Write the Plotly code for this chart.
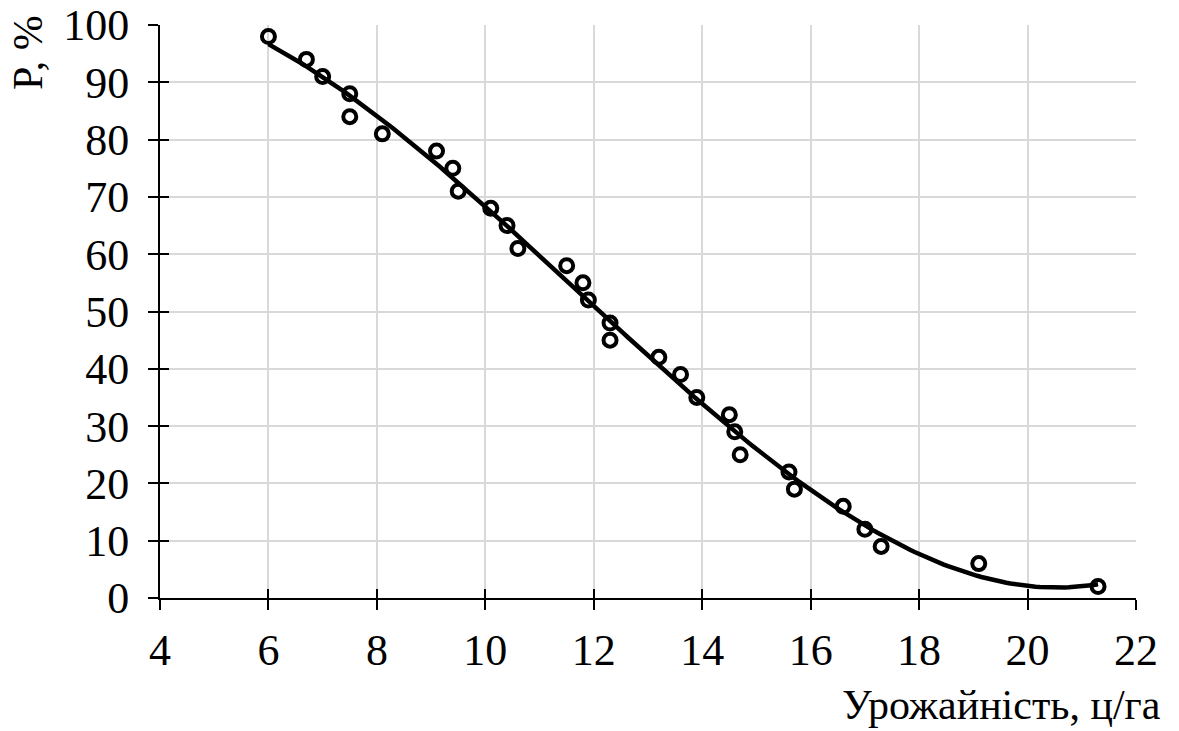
import numpy as np
import plotly.graph_objects as go

# Observed data: yield (c/ha) and probability P (%)
yield_x = [6.0, 6.7, 7.0, 7.5, 7.5, 8.1, 9.1, 9.4, 9.5, 10.1, 10.4, 10.6, 11.5, 11.8, 11.9,
           12.3, 12.3, 13.2, 13.6, 13.9, 14.5, 14.6, 14.7, 15.6, 15.7, 16.6, 17.0, 17.3, 19.1, 21.3]
prob_p = [98, 94, 91, 88, 84, 81, 78, 75, 71, 68, 65, 61, 58, 55, 52,
          48, 45, 42, 39, 35, 32, 29, 25, 22, 19, 16, 12, 9, 6, 2]

x_ticks = [4, 6, 8, 10, 12, 14, 16, 18, 20, 22]
y_ticks = [0, 10, 20, 30, 40, 50, 60, 70, 80, 90, 100]

# Cubic trend line fitted to the data
coef = np.polyfit(yield_x, prob_p, 3)
xs = np.linspace(min(yield_x), max(yield_x), 200)
ys = np.polyval(coef, xs)

FONT = "Liberation Serif, Times New Roman, serif"

fig = go.Figure()
fig.add_trace(go.Scatter(x=xs, y=ys, mode="lines",
                         line=dict(color="black", width=4.5), hoverinfo="skip",
                         showlegend=False))
fig.add_trace(go.Scatter(x=yield_x, y=prob_p, mode="markers",
                         marker=dict(symbol="circle-open", size=13,
                                     line=dict(color="black", width=4), color="black"),
                         showlegend=False))
# invisible trace that activates the overlay axes (used for crossing ticks)
fig.add_trace(go.Scatter(x=[x_ticks[0]], y=[y_ticks[0]], xaxis="x2", yaxis="y2",
                         mode="markers", marker=dict(opacity=0), hoverinfo="skip",
                         showlegend=False))

common_axis = dict(showline=True, linecolor="black", linewidth=2,
                   ticks="outside", ticklen=10, tickwidth=2, tickcolor="black",
                   gridcolor="#d9d9d9", gridwidth=2, zeroline=False, automargin=False,
                   tickfont=dict(family=FONT, size=44, color="black"))

overlay_axis = dict(ticks="inside", ticklen=9, tickwidth=2, tickcolor="black",
                    showticklabels=False, showgrid=False, zeroline=False,
                    showline=False, automargin=False)

fig.update_layout(
    width=1179, height=731,
    margin=dict(l=160, r=43, t=25, b=133),
    paper_bgcolor="white", plot_bgcolor="white",
    font=dict(family=FONT, color="black"),
    xaxis=dict(range=[4, 22], tickvals=x_ticks, ticktext=[str(v) for v in x_ticks],
               ticklabelstandoff=2, **common_axis),
    yaxis=dict(range=[0, 100], tickvals=y_ticks, ticktext=[str(v) for v in y_ticks],
               ticklabelstandoff=10, **common_axis),
    xaxis2=dict(range=[4, 22], tickvals=x_ticks, overlaying="x", anchor="y2",
                side="bottom", **overlay_axis),
    yaxis2=dict(range=[0, 100], tickvals=y_ticks, overlaying="y", anchor="x2",
                side="left", **overlay_axis),
)

fig.add_annotation(text="Урожайність, ц/га", xref="paper", yref="paper",
                   x=1, y=0, xanchor="right", yanchor="middle",
                   xshift=27, yshift=-107, showarrow=False,
                   font=dict(family=FONT, size=42, color="black"))
fig.add_annotation(text="P, %", xref="paper", yref="paper",
                   x=0, y=1, xanchor="center", yanchor="middle",
                   xshift=-132, yshift=-28, textangle=-90, showarrow=False,
                   font=dict(family=FONT, size=42, color="black"))

fig.write_html("out.html")
